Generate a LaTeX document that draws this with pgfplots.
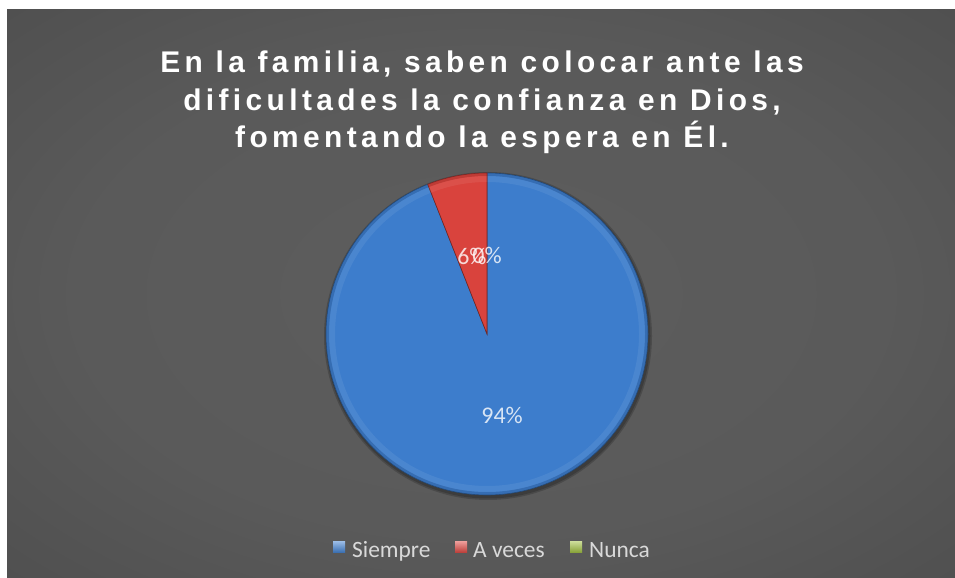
\documentclass[border=0pt]{standalone}
\usepackage{fontspec}
\setmainfont{Carlito}
\newfontfamily\titlefont[LetterSpace=14.7]{Liberation Sans}
\usepackage{pgfplots}
\pgfplotsset{compat=1.18}

\definecolor{sblue}{HTML}{3D7DCC}
\definecolor{ared}{HTML}{D9433D}
\definecolor{ngreen}{HTML}{9BBB3B}
\definecolor{lbl}{HTML}{D9D9D9}

\pgfdeclareradialshading{chartbg}{\pgfpoint{0bp}{0bp}}{%
  color(0bp)=(rgb,255:red,93;green,93;blue,93);
  color(15bp)=(rgb,255:red,90;green,90;blue,90);
  color(25bp)=(rgb,255:red,80;green,80;blue,80);
  color(35bp)=(rgb,255:red,64;green,64;blue,64);
  color(43bp)=(rgb,255:red,51;green,51;blue,51);
  color(50bp)=(rgb,255:red,42;green,42;blue,42)}

\newcommand\lblfont{\fontsize{24}{28}\selectfont}
\newcommand\legfont{\fontsize{23.5}{28}\selectfont}
\newcommand\ttlfont{\titlefont\bfseries\fontsize{30}{37.5}\selectfont}

\begin{document}
\begin{tikzpicture}
\begin{axis}[
    scale only axis,
    width=955bp, height=578bp,
    xmin=0, xmax=955, ymin=0, ymax=578,
    hide axis, clip=false,
]
% page and chart area
\fill[white] (axis cs:0,0) rectangle (axis cs:955,578);
\begin{scope}
  \clip (axis cs:7,0) rectangle (axis cs:955,568);
  \shade[shading=chartbg] (axis cs:-189,-118) rectangle (axis cs:1151,686);
\end{scope}

% title
\node[white, anchor=base, font=\ttlfont] at (axis cs:482,505) {En la familia, saben colocar ante las};
\node[white, anchor=base, font=\ttlfont] at (axis cs:482,467.5) {dificultades la confianza en Dios,};
\node[white, anchor=base, font=\ttlfont] at (axis cs:482,430) {fomentando la espera en Él.};

% pie: Siempre 94, A veces 6, Nunca 0 (percent), clockwise from 12 o'clock
\def\cx{487}\def\cy{244}\def\rad{161}
\fill[black, opacity=0.18] (axis cs:488,242) circle[radius=164bp];
\fill[black, opacity=0.18] (axis cs:488,242) circle[radius=162.5bp];
\xdef\curang{90}
\foreach \v/\col in {94/sblue, 6/ared, 0/ngreen} {
  \pgfmathsetmacro\sweep{3.6*\v}
  \pgfmathsetmacro\endang{\curang-\sweep}
  \pgfmathsetmacro\midang{\curang-\sweep/2}
  \pgfmathsetmacro\px{\cx+\rad*cos(\curang)}
  \pgfmathsetmacro\py{\cy+\rad*sin(\curang)}
  \pgfmathsetmacro\qx{\cx+(\rad-1.5)*cos(\curang)}
  \pgfmathsetmacro\qy{\cy+(\rad-1.5)*sin(\curang)}
  \pgfmathsetmacro\hx{\cx+(\rad-6)*cos(\curang)}
  \pgfmathsetmacro\hy{\cy+(\rad-6)*sin(\curang)}
  \pgfmathsetmacro\lx{\cx+0.5*\rad*cos(\midang)}
  \pgfmathsetmacro\ly{\cy+0.5*\rad*sin(\midang)-2}
  \ifnum\v>0
    \edef\temp{%
      \noexpand\fill[\col, draw=\col!55!black, line width=0.6bp]
        (axis cs:\cx,\cy) -- (axis cs:\px,\py)
        arc[start angle=\curang, end angle=\endang, radius=\rad bp] -- cycle;
      \noexpand\draw[\col!70!black, opacity=0.4, line width=3bp]
        (axis cs:\qx,\qy)
        arc[start angle=\curang, end angle=\endang, radius=\rad bp-1.5bp];
      \noexpand\draw[white, opacity=0.07, line width=6bp]
        (axis cs:\hx,\hy)
        arc[start angle=\curang, end angle=\endang, radius=\rad bp-6bp];}
    \temp
  \fi
  \xdef\curang{\endang}
  \edef\temp{\noexpand\node[text=white, text opacity=0.8, font=\noexpand\lblfont]
      at (axis cs:\lx,\ly) {\v\noexpand\%};}
  \temp
}

% legend
\shade[top color=sblue!55!white, bottom color=sblue!85!black] (axis cs:333,25) rectangle (axis cs:345,36);
\node[lbl, anchor=base west, inner sep=0pt, font=\legfont] at (axis cs:352,21) {Siempre};
\shade[top color=ared!55!white, bottom color=ared!85!black] (axis cs:455,25) rectangle (axis cs:467,36);
\node[lbl, anchor=base west, inner sep=0pt, font=\legfont] at (axis cs:473,21) {A veces};
\shade[top color=ngreen!55!white, bottom color=ngreen!85!black] (axis cs:570,25) rectangle (axis cs:582,36);
\node[lbl, anchor=base west, inner sep=0pt, font=\legfont] at (axis cs:589,21) {Nunca};
\end{axis}
\end{tikzpicture}
\end{document}
